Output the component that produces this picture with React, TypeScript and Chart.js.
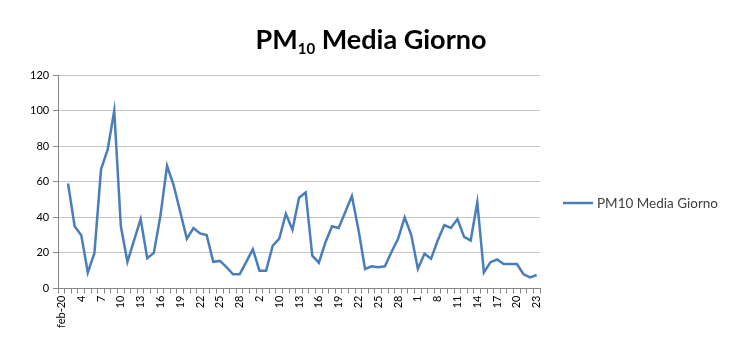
import React, { useEffect, useRef } from "react";
import { Chart, registerables } from "chart.js";

Chart.register(...registerables);

// Category labels (one per day; only every third is shown on the axis)
const DAY_LABELS: string[] = [
  "feb-20", "2", "3", "4", "5", "6", "7", "8", "9", "10",
  "11", "12", "13", "14", "15", "16", "17", "18", "19", "20",
  "21", "22", "23", "24", "25", "26", "27", "28", "29", "1",
  "2", "3", "9", "10", "11", "12", "13", "14", "15", "16",
  "17", "18", "19", "20", "21", "22", "23", "24", "25", "26",
  "27", "28", "29", "31", "1", "2", "7", "8", "9", "10",
  "11", "12", "13", "14", "15", "16", "17", "18", "19", "20",
  "21", "22", "23",
];

// PM10 daily mean values (first category has no value)
const PM10_VALUES: (number | null)[] = [
  null,
  59, 35, 30, 9, 20, 67, 78, 100, 35, 15,
  27, 39, 17, 20, 41, 69, 58, 43, 28, 34,
  31, 30, 15, 15.5, 12, 8, 8, 15, 22, 10,
  10, 24, 28, 42, 33, 51, 54, 18.5, 14.5, 26,
  35, 34, 43, 52, 33, 11, 12.5, 12, 12.5, 20.5,
  28, 40, 30, 11, 19.5, 16.7, 27, 35.6, 34, 39,
  29, 27, 48.5, 9, 14.8, 16.3, 13.8, 13.8, 13.8, 8,
  6.2, 7.6,
];

const SERIES_NAME = "PM10 Media Giorno";
const Y_MIN = 0;
const Y_MAX = 120;
const Y_STEP = 20;
const LABEL_EVERY = 3;

const FONT = "Lato, 'Open Sans', 'DejaVu Sans', sans-serif";
const LINE_COLOR = "#4a7ebb";

const titlePlugin = {
  id: "subscriptTitle",
  afterDraw(chart: any) {
    const ctx = chart.ctx as CanvasRenderingContext2D;
    ctx.save();
    ctx.fillStyle = "#000000";
    ctx.textBaseline = "alphabetic";
    const big = `bold 27px ${FONT}`;
    const small = `bold 15px ${FONT}`;
    const parts = [
      { t: "PM", f: big, dy: 0 },
      { t: "10", f: small, dy: 5 },
      { t: " Media Giorno", f: big, dy: 0 },
    ];
    let total = 0;
    for (const p of parts) {
      ctx.font = p.f;
      total += ctx.measureText(p.t).width;
    }
    let x = 371 - total / 2;
    const baseY = 49;
    for (const p of parts) {
      ctx.font = p.f;
      ctx.fillText(p.t, x, baseY + p.dy);
      x += ctx.measureText(p.t).width;
    }
    ctx.restore();
  },
};

// Legend drawn to the right of the plot area, vertically centred like Excel
const legendPlugin = {
  id: "sideLegend",
  afterDraw(chart: any) {
    const ctx = chart.ctx as CanvasRenderingContext2D;
    const area = chart.chartArea;
    const x0 = area.right + 23;
    const y = 203;
    ctx.save();
    ctx.strokeStyle = LINE_COLOR;
    ctx.lineWidth = 2.5;
    ctx.beginPath();
    ctx.moveTo(x0, y);
    ctx.lineTo(x0 + 30, y);
    ctx.stroke();
    ctx.fillStyle = "#404040";
    ctx.font = `13.5px ${FONT}`;
    ctx.textBaseline = "middle";
    ctx.textAlign = "left";
    ctx.fillText(SERIES_NAME, x0 + 34, y + 0.5);
    ctx.restore();
  },
};

export default function App() {
  const canvasRef = useRef<HTMLCanvasElement | null>(null);

  useEffect(() => {
    if (!canvasRef.current) return;
    const chart = new Chart(canvasRef.current, {
      type: "line",
      data: {
        labels: DAY_LABELS,
        datasets: [
          {
            label: SERIES_NAME,
            data: PM10_VALUES,
            borderColor: LINE_COLOR,
            backgroundColor: LINE_COLOR,
            borderWidth: 2.5,
            pointRadius: 0,
            tension: 0,
            spanGaps: false,
          },
        ],
      },
      options: {
        animation: false,
        responsive: false,
        maintainAspectRatio: false,
        layout: { padding: { top: 75, left: 26, right: 204, bottom: 8 } },
        plugins: {
          title: { display: false },
          tooltip: { enabled: false },
          legend: { display: false },
        },
        scales: {
          x: {
            type: "category",
            offset: true,
            grid: {
              display: true,
              drawOnChartArea: false,
              drawTicks: true,
              tickLength: 5,
              offset: true,
              color: "#868686",
            },
            border: { display: true, color: "#868686", width: 1 },
            ticks: {
              autoSkip: false,
              maxRotation: 90,
              minRotation: 90,
              padding: 2,
              color: "#000000",
              font: { family: FONT, size: 11 },
              callback: (_v: any, i: number) =>
                i % LABEL_EVERY === 0 ? DAY_LABELS[i] : "",
            },
          },
          y: {
            min: Y_MIN,
            max: Y_MAX,
            grid: {
              color: "#c6c6c6",
              lineWidth: 1,
              drawTicks: true,
              tickLength: 5,
              tickColor: "#868686",
            },
            border: { display: true, color: "#868686", width: 1 },
            ticks: {
              stepSize: Y_STEP,
              padding: 4,
              color: "#000000",
              font: { family: FONT, size: 11 },
            },
          },
        },
      },
      plugins: [titlePlugin, legendPlugin],
    });
    return () => chart.destroy();
  }, []);

  return (
    <div
      style={{
        position: "absolute",
        left: 0,
        top: 0,
        width: 744,
        height: 338,
        background: "#ffffff",
      }}
    >
      <canvas ref={canvasRef} width={744} height={338} />
    </div>
  );
}
